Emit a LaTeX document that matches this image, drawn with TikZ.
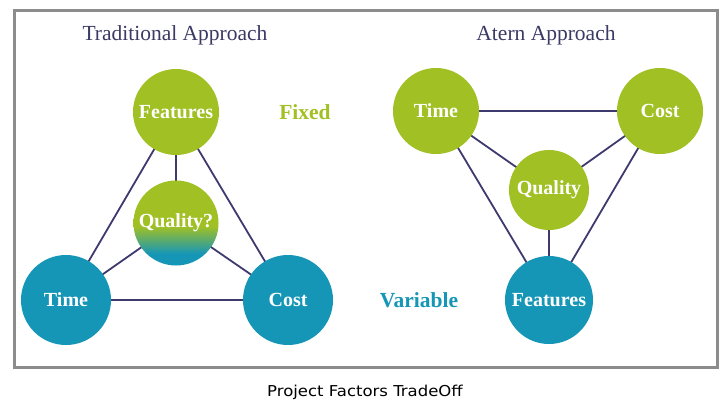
\documentclass[tikz,border=0pt]{standalone}
\usepackage{fontspec}
\setmainfont{Liberation Serif}
\newfontfamily\capfont[FakeStretch=1.1]{DejaVu Sans}
\definecolor{lgreen}{RGB}{160,192,36}
\definecolor{lteal}{RGB}{22,150,182}
\definecolor{lline}{RGB}{62,58,110}
\definecolor{ltitle}{RGB}{58,58,100}
\definecolor{lframe}{RGB}{140,140,140}
\pgfdeclareverticalshading{qualshade}{100bp}{color(0bp)=(lteal); color(32bp)=(lteal); color(48bp)=(lgreen); color(100bp)=(lgreen)}
\begin{document}
\begin{tikzpicture}[x=1pt,y=-1pt,
  ball/.style={circle,inner sep=0pt,text=white,font=\bfseries\fontsize{20}{20}\selectfont},
  gball/.style={ball,fill=lgreen},
  tball/.style={ball,fill=lteal},
  link/.style={draw=lline,line width=1.8pt},
  ttl/.style={text=ltitle,font=\fontsize{21.5}{21.5}\selectfont},
  lbl/.style={font=\bfseries\fontsize{21.5}{21.5}\selectfont}]
\useasboundingbox (0,0) rectangle (727,406);
\fill[white] (0,0) rectangle (727,406);
\draw[lframe,line width=3pt] (14,11) rectangle (717,367);
% titles
\node[ttl] (t1) at (175,35) {Traditional Approach};
\node[ttl] (t2) at (546,35) {Atern Approach};
\node[lbl,text=lgreen] (fixed) at (305,112) {Fixed};
\node[lbl,text=lteal] (var) at (419,300) {Variable};
% positions
\coordinate (LF) at (176,112);
\coordinate (LQ) at (176,223);
\coordinate (LT) at (66,300);
\coordinate (LC) at (288,300);
\coordinate (RT) at (436,111);
\coordinate (RC) at (660,111);
\coordinate (RQ) at (549,190);
\coordinate (RF) at (549,300);
% links
\draw[link] (LF) -- (LT) (LF) -- (LC) (LT) -- (LC) (LF) -- (LQ) (LQ) -- (LT) (LQ) -- (LC);
\draw[link] (RT) -- (RC) (RT) -- (RF) (RC) -- (RF) (RQ) -- (RT) (RQ) -- (RC) (RQ) -- (RF);
% balls
\node[gball,minimum size=86pt] (lf) at (LF) {Features};
\shade[shading=qualshade] (LQ) circle[radius=42.5];
\node[ball,minimum size=85pt] (lq) at (LQ) {Quality?};
\node[tball,minimum size=90pt] (lt) at (LT) {Time};
\node[tball,minimum size=90pt] (lc) at (LC) {Cost};
\node[gball,minimum size=86pt] (rt) at (RT) {Time};
\node[gball,minimum size=86pt] (rc) at (RC) {Cost};
\node[gball,minimum size=80pt] (rq) at (RQ) {Quality};
\node[tball,minimum size=88pt] (rf) at (RF) {Features};
% caption
\node[font=\capfont\fontsize{15}{15}\selectfont] (cap) at (365,392) {Project Factors TradeOff};
\end{tikzpicture}
\end{document}
